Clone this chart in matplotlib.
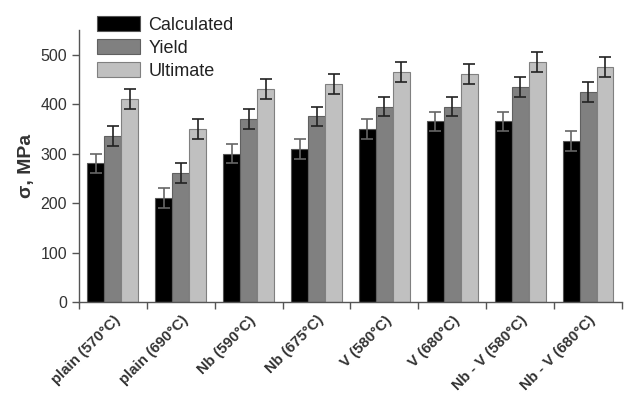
import matplotlib
matplotlib.use("Agg")
import matplotlib.pyplot as plt
import numpy as np

plt.rcParams['font.family'] = ['Liberation Sans', 'DejaVu Sans']

categories = ["plain (570°C)", "plain (690°C)", "Nb (590°C)", "Nb (675°C)",
              "V (580°C)", "V (680°C)", "Nb - V (580°C)", "Nb - V (680°C)"]
calculated = [280, 210, 300, 310, 350, 365, 365, 325]
yield_str = [335, 260, 370, 375, 395, 395, 435, 425]
ultimate = [410, 350, 430, 440, 465, 460, 485, 475]
err = 20

fig = plt.figure(figsize=(6.27, 3.98), dpi=100)
ax = fig.add_axes([0.126, 0.241, 0.866, 0.684])

x = np.arange(len(categories))
w = 0.25
ax.bar(x - w, calculated, w, color='black', edgecolor='#555555', linewidth=0.8,
       label='Calculated', zorder=2)
ax.bar(x, yield_str, w, color='#808080', edgecolor='#606060', linewidth=0.8,
       label='Yield', zorder=2)
ax.bar(x + w, ultimate, w, color='#c0c0c0', edgecolor='#808080', linewidth=0.8,
       label='Ultimate', zorder=2)
ax.errorbar(x - w, calculated, yerr=err, fmt='none', ecolor='#666666',
            elinewidth=1.2, capsize=4, capthick=1.2, zorder=3)
ax.errorbar(x, yield_str, yerr=err, fmt='none', ecolor='#222222',
            elinewidth=1.2, capsize=4, capthick=1.2, zorder=3)
ax.errorbar(x + w, ultimate, yerr=err, fmt='none', ecolor='#222222',
            elinewidth=1.2, capsize=4, capthick=1.2, zorder=3)

ax.set_xlim(-0.5, 7.5)
ax.set_ylim(0, 550)
ax.set_yticks([0, 100, 200, 300, 400, 500])
ax.set_xticks(x)
ax.set_xticklabels(categories, rotation=45, ha='right', rotation_mode='anchor',
                   fontweight='bold', fontsize=10.8, color='#333333')
ax.set_xticks(np.arange(-0.5, 8.0, 1.0), minor=True)
ax.tick_params(axis='x', which='major', length=0, pad=8)
ax.tick_params(axis='x', which='minor', length=5, width=1, color='#555555')
ax.tick_params(axis='y', length=5, width=1, color='#555555', labelsize=11.5,
               labelcolor='#333333')
for s in ['top', 'right']:
    ax.spines[s].set_visible(False)
for s in ['left', 'bottom']:
    ax.spines[s].set_color('#555555')
    ax.spines[s].set_linewidth(1)

ax.set_ylabel('σ, MPa', fontsize=14, fontweight='bold', color='#333333')

leg = ax.legend(loc='upper left', bbox_to_anchor=(0.033, 1.05), frameon=False,
                fontsize=13, handlelength=2.4, handleheight=0.9,
                labelspacing=0.28, handletextpad=0.45, borderpad=0,
                borderaxespad=0)
for t in leg.get_texts():
    t.set_color('#222222')

fig.savefig('out.png', dpi=100)
